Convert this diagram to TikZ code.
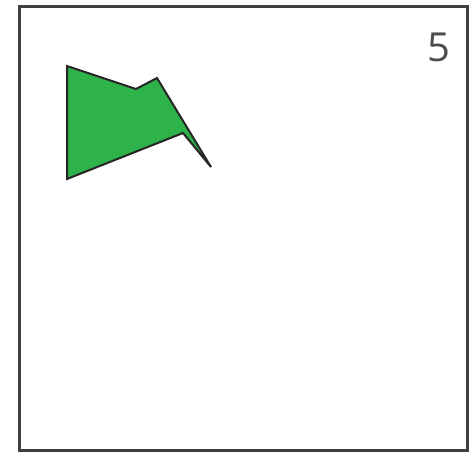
\documentclass[tikz,border=0pt]{standalone}
\usepackage{fontspec}
\setsansfont{Open Sans}
\usetikzlibrary{positioning}

\begin{document}
\begin{tikzpicture}[
    x=1pt, y=-1pt,
  frame/.style = {draw=black!75, line width=3pt},
   flag/.style = {draw=black!85, line width=2pt, line join=miter,
                  fill={rgb,255:red,46;green,178;blue,74}},
  count/.style = {font=\sffamily\fontsize{40}{40}\selectfont,
                  text=black!70, inner sep=0pt}
                    ]
\useasboundingbox (0,0) rectangle (471,453);
% the frame
\draw[frame] (19,6) rectangle (467,450);
% the green flag
\draw[flag] (67,66) -- (136,89) -- (157,78) -- (211,167)
            -- (183,133) -- (67,179) -- cycle;
% the number in the corner
\node (num) [count] at (439,47) {5};
\end{tikzpicture}
\end{document}
